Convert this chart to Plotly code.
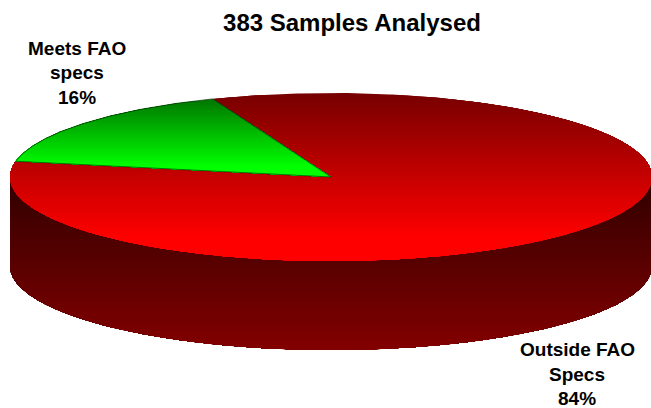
import numpy as np
import plotly.graph_objects as go

# --- data ---
categories = ["Outside FAO Specs", "Meets FAO specs"]
values = [84, 16]
label_lines = [["Outside FAO", "Specs"], ["Meets FAO", "specs"]]
title_text = "383 Samples Analysed"

# --- drawing parameters ---
W, H = 651, 408
CX, CY, RX, RY, DEPTH = 331, 177, 321, 84, 89
START_DEG = -21.6   # clockwise from twelve o'clock
BAND = 2
TOP_FRAC = 0.47
FULL_AT = 0.85
SLICE_RGB = [(255, 0, 0), (0, 255, 0)]
LABEL_POS = [(577, 349.5), (77, 48)]
LINE_STEP = 24.5


def project(theta_deg):
    t = np.radians(theta_deg)
    return CX + RX * np.sin(t), CY - RY * np.cos(t)


def clip_below(poly, c):
    """Keep the part of a polygon with y >= c (pixel-style y axis)."""
    out = []
    n = len(poly)
    for i in range(n):
        a, b = poly[i], poly[(i + 1) % n]
        ina, inb = a[1] >= c, b[1] >= c
        if ina:
            out.append(a)
        if ina != inb:
            s = (c - a[1]) / (b[1] - a[1])
            out.append((a[0] + s * (b[0] - a[0]), c))
    return out


def add_poly(fig, poly, color):
    xs = [p[0] for p in poly] + [poly[0][0]]
    ys = [p[1] for p in poly] + [poly[0][1]]
    fig.add_trace(go.Scatter(x=xs, y=ys, mode="lines", fill="toself", fillcolor=color,
                             line=dict(width=0), hoverinfo="skip", showlegend=False))


def add_gradient(fig, poly, colour_at):
    ys = [p[1] for p in poly]
    y0, y1 = min(ys), max(ys)
    for c in np.arange(y0, y1, BAND):
        part = clip_below(poly, c)
        if len(part) >= 3:
            add_poly(fig, part, colour_at((c - y0) / (y1 - y0)))


fig = go.Figure()

# side wall: front half of the rim, extruded downwards
front = [project(a) for a in np.linspace(90, 270, 181)]
wall = front + [(x, y + DEPTH) for x, y in reversed(front)]
add_gradient(fig, wall, lambda f: f"rgb({int(48 + f * 84)},0,0)")

# top face slices, sized from the values
total = sum(values)
start = START_DEG
for i, v in enumerate(values):
    sweep = 360 * v / total
    rim = [project(a) for a in np.linspace(start, start + sweep, max(int(sweep) * 2, 8))]
    poly = [(CX, CY)] + rim
    rgb = SLICE_RGB[i]

    def colour(f, rgb=rgb):
        k = TOP_FRAC + (1 - TOP_FRAC) * min(f / FULL_AT, 1)
        return "rgb({},{},{})".format(*[int(c * k) for c in rgb])

    add_gradient(fig, poly, colour)
    if i == 1:  # thin dark outline around the small slice
        fig.add_trace(go.Scatter(x=[p[0] for p in poly] + [CX], y=[p[1] for p in poly] + [CY],
                                 mode="lines", line=dict(color="rgb(0,50,0)", width=0.7),
                                 hoverinfo="skip", showlegend=False))
    start += sweep

annotations = []
for lines, v, (x, y) in zip(label_lines, values, LABEL_POS):
    for j, line in enumerate(lines + [f"{v}%"]):
        annotations.append(dict(x=x, y=y + j * LINE_STEP, text=line, showarrow=False,
                                xanchor="center", yanchor="middle",
                                font=dict(family="Liberation Sans", size=19, color="black",
                                          weight="bold")))

fig.update_layout(
    width=W, height=H, autosize=False,
    margin=dict(l=0, r=0, t=0, b=0),
    paper_bgcolor="white", plot_bgcolor="white",
    title=dict(text=f"<b>{title_text}</b>", x=352 / W, xanchor="center",
               y=1 - 23 / H, yanchor="middle",
               font=dict(family="Liberation Sans", size=24, color="black")),
    xaxis=dict(range=[0, W], visible=False, fixedrange=True),
    yaxis=dict(range=[H, 0], visible=False, fixedrange=True),
    annotations=annotations,
    showlegend=False,
)
fig.write_html("out.html", config=dict(displayModeBar=False),
               post_script="document.body.style.margin='0';document.body.style.overflow='hidden';")
